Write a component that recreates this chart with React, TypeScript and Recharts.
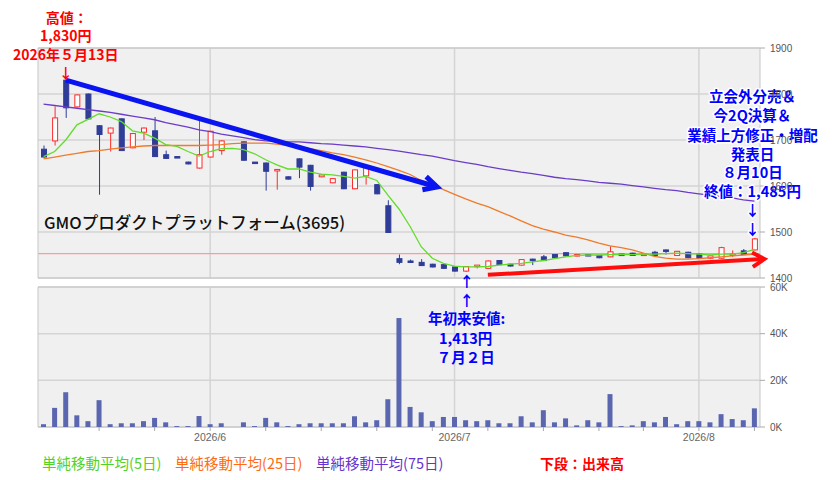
import React from 'react';
import {
  ComposedChart,
  Bar,
  Line,
  XAxis,
  YAxis,
  CartesianGrid,
  ReferenceLine,
  ReferenceArea,
  ReferenceDot,
} from 'recharts';

// ---------- data ----------
const dates = [
  '2026/5/11', '2026/5/12', '2026/5/13', '2026/5/14', '2026/5/15', '2026/5/18', '2026/5/19', '2026/5/20', '2026/5/21', '2026/5/22', '2026/5/25', '2026/5/26', '2026/5/27', '2026/5/28', '2026/5/29',
  '2026/6/1', '2026/6/2', '2026/6/3', '2026/6/4', '2026/6/5', '2026/6/8', '2026/6/9', '2026/6/10', '2026/6/11', '2026/6/12', '2026/6/15', '2026/6/16', '2026/6/17', '2026/6/18', '2026/6/19', '2026/6/22', '2026/6/23', '2026/6/24', '2026/6/25', '2026/6/26', '2026/6/29', '2026/6/30',
  '2026/7/1', '2026/7/2', '2026/7/3', '2026/7/6', '2026/7/7', '2026/7/8', '2026/7/9', '2026/7/10', '2026/7/13', '2026/7/14', '2026/7/15', '2026/7/16', '2026/7/17', '2026/7/21', '2026/7/22', '2026/7/23', '2026/7/24', '2026/7/27', '2026/7/28', '2026/7/29', '2026/7/30', '2026/7/31',
  '2026/8/3', '2026/8/4', '2026/8/5', '2026/8/6', '2026/8/7', '2026/8/10',
];

const opens = [
  1680, 1698, 1830, 1772, 1800, 1731, 1715, 1746, 1683, 1717, 1720, 1668, 1664, 1652, 1639,
  1663, 1677, null, 1696, 1652, 1650, 1634, 1620, 1659, 1645, 1620, 1607, 1630, 1594, 1622, 1603, 1557, 1442, 1437, 1434, 1430, 1429,
  1424, 1415, 1427, 1421, 1438, 1430, 1428, 1441, 1446, 1451, 1455, 1450, 1451, 1449, 1446, 1452, 1454, 1451, 1456, 1461, 1449, 1456,
  1452, 1443, 1443, 1451, 1459, 1461,
];
const highs = [
  1688, 1773, 1830, 1799, 1801, 1732, 1727, 1747, 1715, 1727, 1750, 1677, 1664, 1653, 1742,
  1720, 1699, null, 1697, 1652, 1651, 1636, 1621, 1660, 1646, 1625, 1617, 1631, 1636, 1646, 1604, 1569, 1451, 1440, 1441, 1431, 1430,
  1425, 1426, 1428, 1438, 1439, 1431, 1441, 1442, 1450, 1452, 1456, 1452, 1452, 1450, 1469, 1452, 1455, 1453, 1459, 1462, 1459, 1457,
  1453, 1450, 1468, 1460, 1463, 1487,
];
const lows = [
  1662, 1688, 1748, 1771, 1745, 1581, 1675, 1676, 1682, 1700, 1663, 1659, 1662, 1647, 1638,
  1662, 1668, null, 1655, 1650, 1590, 1592, 1614, 1617, 1590, 1619, 1606, 1593, 1593, 1603, 1582, 1498, 1430, 1433, 1426, 1423, 1420,
  1414, 1413, 1421, 1420, 1428, 1425, 1427, 1428, 1437, 1443, 1447, 1447, 1448, 1443, 1445, 1449, 1448, 1450, 1448, 1451, 1448, 1443,
  1442, 1441, 1442, 1446, 1450, 1460,
];
const closes = [
  1663, 1748, 1770, 1798, 1746, 1712, 1726, 1677, 1714, 1726, 1664, 1660, 1662, 1648, 1668,
  1719, 1698, null, 1656, 1651, 1632, 1636, 1615, 1641, 1599, 1624, 1616, 1594, 1635, 1641, 1583, 1499, 1434, 1435, 1427, 1424, 1421,
  1415, 1425, 1428, 1437, 1429, 1426, 1440, 1440, 1438, 1444, 1448, 1451, 1449, 1444, 1457, 1450, 1449, 1452, 1449, 1460, 1458, 1444,
  1443, 1448, 1466, 1452, 1451, 1485,
];
const volumes = [
  1200, 8200, 14900, 5000, 2500, 11500, 1200, 1600, 1600, 2500, 3900, 2000, 400, 400, 4700,
  1200, 1600, 0, 2000, 400, 3900, 2000, 400, 1200, 1600, 1600, 1600, 1600, 4600, 2000, 2900, 11900, 46700, 8600, 6300, 2500, 4300,
  4300, 2900, 2500, 2900, 1600, 1600, 4600, 2000, 7200, 2000, 3700, 700, 2900, 2000, 14100, 400, 700, 2500, 2000, 4300, 1200, 2500,
  2500, 2000, 5500, 3400, 2900, 8000,
];
const ma5 = [
  1664, 1675, 1700, 1733, 1745, 1757, 1750, 1740, 1720, 1715, 1704, 1690, 1686, 1675, 1665,
  1675, 1681, 1682, 1679, 1670, 1657, 1646, 1637, 1637, 1630, 1626, 1624, 1621, 1617, 1621, 1612, 1580, 1550, 1512, 1468, 1443, 1432,
  1426, 1424, 1424, 1425, 1428, 1430, 1432, 1435, 1438, 1442, 1446, 1449, 1450, 1450, 1451, 1451, 1451, 1452, 1452, 1453, 1454, 1453,
  1452, 1450, 1452, 1452, 1455, 1462,
];
const ma25 = [
  1659, 1663, 1667, 1671, 1675, 1677, 1680, 1683, 1685, 1687, 1688, 1688, 1688, 1688, 1688,
  1689, 1690, 1692, 1693, 1693, 1693, 1691, 1688, 1685, 1681, 1677, 1672, 1668, 1663, 1657, 1650, 1642, 1634, 1625, 1612, 1603, 1592,
  1582, 1572, 1563, 1555, 1545, 1535, 1524, 1514, 1506, 1500, 1493, 1489, 1483, 1476, 1470, 1466, 1461, 1454, 1447, 1443, 1441, 1441,
  1442, 1444, 1446, 1448, 1450, 1452,
];
const ma75 = [
  1778, 1775, 1772, 1769, 1766, 1763, 1760, 1756, 1752, 1748, 1744, 1738, 1733, 1728, 1722,
  1718, 1713, 1709, 1705, 1701, 1698, 1697, 1696, 1696, 1694, 1692, 1691, 1689, 1687, 1685, 1682, 1679, 1676, 1672, 1668, 1665, 1660,
  1655, 1651, 1647, 1642, 1638, 1634, 1630, 1627, 1623, 1619, 1616, 1614, 1611, 1608, 1606, 1604, 1601, 1598, 1595, 1592, 1590, 1586,
  1583, 1580, 1577, 1574, 1570, 1567,
];

const priceTicks = [1400, 1500, 1600, 1700, 1800, 1900];
const volumeTicks = [0, 20000, 40000, 60000];
const monthStarts = ['2026/6/1', '2026/7/1', '2026/8/3'];
const monthLabels = ['2026/6', '2026/7', '2026/8'];
const weekStarts = ['2026/5/18', '2026/5/25', '2026/6/1', '2026/6/8', '2026/6/15', '2026/6/22', '2026/6/29', '2026/7/6', '2026/7/13', '2026/7/21', '2026/7/27', '2026/8/3', '2026/8/10'];
const refPrice = 1453;

const highNote = { date: '2026/5/13', price: 1830, lines: ['高値：', '1,830円', '2026年５月13日'] };
const lowNote = { date: '2026/7/2', price: 1413, lines: ['年初来安値:', '1,413円', '７月２日'] };
const earnNote = { date: '2026/8/10', price: 1487, lines: ['立会外分売＆', '今2Q決算＆', '業績上方修正・増配', '発表日', '８月10日', '終値：1,485円'] };
const downTrend = [{ date: '2026/5/13', price: 1830 }, { date: '2026/6/29', price: 1601 }];
const upTrend = [{ date: '2026/7/6', price: 1407 }, { date: '2026/8/10', price: 1440 }];

const legendItems = [
  { label: '単純移動平均(5日)', color: '#52d126', left: 42 },
  { label: '単純移動平均(25日)', color: '#ff6a12', left: 175 },
  { label: '単純移動平均(75日)', color: '#6633cc', left: 316 },
];
const lowerLabel = '下段：出来高';
const title = 'GMOプロダクトプラットフォーム(3695)';

const rows = dates.map((date, i) => ({
  date,
  open: opens[i],
  high: highs[i],
  low: lows[i],
  close: closes[i],
  volume: volumes[i],
  ma5: ma5[i],
  ma25: ma25[i],
  ma75: ma75[i],
}));

// ---------- styles ----------
const JP = '"Noto Sans CJK JP","Noto Sans",sans-serif';
const AX = '"Liberation Sans",Arial,sans-serif';
const GRID = '#d4d4d4';
const BG = '#f0f0f0';
const BORDER = '#c6c6c6';
const UP = '#ff2a2a';
const DOWN = '#2f3c98';

// ---------- shapes ----------
function Candle(props: any) {
  const { x, y, width, height, payload } = props;
  if (!payload || payload.open == null || y == null) return null;
  const { open, close, high, low } = payload;
  const top = Math.min(y, y + height);
  const h = Math.abs(height);
  const ratio = high > low ? h / (high - low) : 0;
  const py = (v: number) => top + (high - v) * ratio;
  const cx = x + width / 2;
  const up = close >= open;
  const color = up ? UP : DOWN;
  const bTop = py(Math.max(open, close));
  const bBot = py(Math.min(open, close));
  const bh = Math.max(bBot - bTop, 1.5);
  return (
    <g>
      <line x1={cx} x2={cx} y1={top} y2={top + h} stroke={color} strokeWidth={1} />
      <rect x={cx - 2.5} y={bTop} width={5} height={bh} fill={up ? '#ffffff' : color} stroke={color} strokeWidth={1} />
    </g>
  );
}

function arrowShape(color: string, sw: number, ext: number, barb: number, deg: number) {
  return (p: any) => {
    const { x1, y1, x2, y2 } = p;
    if (x1 == null || x2 == null) return <g />;
    const dx = x2 - x1;
    const dy = y2 - y1;
    const len = Math.hypot(dx, dy) || 1;
    const ux = dx / len;
    const uy = dy / len;
    const tx = x2 + ux * ext;
    const ty = y2 + uy * ext;
    const a = (deg * Math.PI) / 180;
    const bx = -ux;
    const by = -uy;
    const r1x = bx * Math.cos(a) - by * Math.sin(a);
    const r1y = bx * Math.sin(a) + by * Math.cos(a);
    const r2x = bx * Math.cos(-a) - by * Math.sin(-a);
    const r2y = bx * Math.sin(-a) + by * Math.cos(-a);
    return (
      <g>
        <line x1={x1} y1={y1} x2={tx - ux * 1.5} y2={ty - uy * 1.5} stroke={color} strokeWidth={sw} />
        <polyline
          points={`${tx + r1x * barb},${ty + r1y * barb} ${tx},${ty} ${tx + r2x * barb},${ty + r2y * barb}`}
          fill="none"
          stroke={color}
          strokeWidth={sw}
          strokeLinejoin="miter"
        />
      </g>
    );
  };
}

const HighNoteShape = (p: any) => {
  const { cx, cy } = p;
  const [a, b, c] = highNote.lines;
  return (
    <g fontFamily={JP} fontWeight={700} fontSize={14} fill="#ff0000" textAnchor="middle">
      <text x={cx + 1} y={cy - 57.5}>{a}</text>
      <text x={cx} y={cy - 39}>{b}</text>
      <text x={cx} y={cy - 20}>{c}</text>
      <text x={cx} y={cy - 2.5}>↓</text>
    </g>
  );
};

const LowNoteShape = (p: any) => {
  const { cx, cy } = p;
  const [a, b, c] = lowNote.lines;
  return (
    <g fontFamily={JP} fontWeight={700} fontSize={14.5} fill="#0000ff" textAnchor="middle">
      <text x={cx + 1} y={cy + 15}>↑</text>
      <text x={cx + 1} y={cy + 34}>↑</text>
      <text x={cx + 1} y={cy + 52}>{a}</text>
      <text x={cx} y={cy + 72}>{b}</text>
      <text x={cx} y={cy + 91}>{c}</text>
    </g>
  );
};

const EarnNoteShape = (p: any) => {
  const { cx, cy } = p;
  const offs = [-136, -116.5, -96.5, -77.5, -59.5, -40.5];
  return (
    <g
      fontFamily={JP}
      fontWeight={700}
      fontSize={14.5}
      fill="#0000ff"
      textAnchor="middle"
      stroke="#ffffff"
      strokeWidth={3}
      strokeLinejoin="round"
      style={{ paintOrder: 'stroke' }}
    >
      {earnNote.lines.map((l, i) => (
        <text key={i} x={cx - 2} y={cy + offs[i]}>{l}</text>
      ))}
      <text x={cx - 2} y={cy - 21.6}>↓</text>
      <text x={cx - 2} y={cy - 3.3}>↓</text>
    </g>
  );
};

function VolumeTick(props: any) {
  const { x, y, payload } = props;
  const v = payload && payload.value;
  const m = monthStarts.indexOf(v);
  const isWeek = weekStarts.indexOf(v) >= 0;
  return (
    <g>
      {isWeek && <line x1={x} x2={x} y1={y} y2={y + 4} stroke="#a8a8a8" strokeWidth={1} />}
      {m >= 0 && (
        <text x={x} y={y + 14} textAnchor="middle" fontSize={10.5} fontFamily={AX} fill="#666">
          {monthLabels[m]}
        </text>
      )}
    </g>
  );
}

const volumeAxisTicks = Array.from(new Set([...weekStarts, ...monthStarts])).sort(
  (a, b) => dates.indexOf(a) - dates.indexOf(b)
);

export default function App() {
  return (
    <div
      style={{
        position: 'absolute',
        left: 0,
        top: 0,
        width: 832,
        height: 480,
        background: '#ffffff',
        fontFamily: JP,
        overflow: 'hidden',
      }}
    >
      {/* volume panel */}
      <div style={{ position: 'absolute', left: 0, top: 0 }}>
        <ComposedChart width={832} height={480} data={rows} margin={{ top: 287, right: 0, bottom: 33, left: 38 }}>
          <CartesianGrid vertical={false} stroke={GRID} strokeWidth={1.5} fill={BG} />
          {monthStarts.map((d) => (
            <ReferenceLine key={d} x={d} stroke={GRID} strokeWidth={1.5} zIndex={-50} />
          ))}
          <ReferenceArea y1={0} y2={60000} fillOpacity={0} stroke={BORDER} strokeWidth={1} />
          <XAxis
            dataKey="date"
            ticks={volumeAxisTicks}
            interval={0}
            tick={<VolumeTick />}
            tickLine={false}
            axisLine={false}
            tickSize={0}
            tickMargin={0}
            height={20}
          />
          <YAxis
            orientation="right"
            width={72}
            domain={[0, 60000]}
            ticks={volumeTicks}
            allowDataOverflow
            interval={0}
            tickFormatter={(v: number) => `${v / 1000}K`}
            tick={{ fontSize: 10, fill: '#555', fontFamily: AX }}
            tickLine={{ stroke: '#aaa' }}
            tickSize={5}
            tickMargin={5}
            axisLine={false}
          />
          <Bar dataKey="volume" fill="#5a66b0" barSize={5} isAnimationActive={false} />
        </ComposedChart>
      </div>

      {/* price panel */}
      <div style={{ position: 'absolute', left: 0, top: 0 }}>
        <ComposedChart width={832} height={480} data={rows} margin={{ top: 48, right: 0, bottom: 202, left: 38 }}>
          <CartesianGrid vertical={false} stroke={GRID} strokeWidth={1.5} fill={BG} />
          {monthStarts.map((d) => (
            <ReferenceLine key={d} x={d} stroke={GRID} strokeWidth={1.5} zIndex={-50} />
          ))}
          <ReferenceLine y={refPrice} stroke="#ff9a9a" strokeWidth={1.2} zIndex={-40} />
          <ReferenceArea y1={1400} y2={1900} fillOpacity={0} stroke={BORDER} strokeWidth={1} />
          <XAxis dataKey="date" hide />
          <YAxis
            orientation="right"
            width={72}
            domain={[1400, 1900]}
            ticks={priceTicks}
            allowDataOverflow
            interval={0}
            tick={{ fontSize: 10, fill: '#555', fontFamily: AX }}
            tickLine={{ stroke: '#aaa' }}
            tickSize={5}
            tickMargin={5}
            axisLine={false}
          />
          <Bar
            dataKey={(d: any) => (d.low == null ? null : [d.low, d.high])}
            barSize={6}
            shape={Candle}
            isAnimationActive={false}
          />
          <Line type="linear" dataKey="ma75" stroke="#6a3cc8" strokeWidth={1.3} dot={false} activeDot={false} isAnimationActive={false} />
          <Line type="linear" dataKey="ma25" stroke="#f07a2a" strokeWidth={1.3} dot={false} activeDot={false} isAnimationActive={false} />
          <Line type="linear" dataKey="ma5" stroke="#62dc2a" strokeWidth={1.3} dot={false} activeDot={false} isAnimationActive={false} />
          <ReferenceLine
            segment={downTrend.map((p) => ({ x: p.date, y: p.price }))}
            ifOverflow="visible"
            shape={arrowShape('#0a14f0', 5, 5, 15, 27)}
          />
          <ReferenceLine
            segment={upTrend.map((p) => ({ x: p.date, y: p.price }))}
            ifOverflow="visible"
            shape={arrowShape('#ff0d0d', 4, 10, 14, 31)}
          />
          <ReferenceDot x={highNote.date} y={highNote.price} r={0} ifOverflow="visible" shape={HighNoteShape} />
          <ReferenceDot x={lowNote.date} y={lowNote.price} r={0} ifOverflow="visible" shape={LowNoteShape} />
          <ReferenceDot x={earnNote.date} y={earnNote.price} r={0} ifOverflow="visible" shape={EarnNoteShape} />
        </ComposedChart>
      </div>

      {/* title */}
      <div
        style={{
          position: 'absolute',
          left: 44,
          top: 211,
          fontSize: 16.5,
          fontWeight: 500,
          lineHeight: '22px',
          color: '#111',
          whiteSpace: 'nowrap',
        }}
      >
        {title}
      </div>

      {/* legend */}
      {legendItems.map((it) => (
        <div
          key={it.label}
          style={{
            position: 'absolute',
            left: it.left,
            top: 452,
            fontSize: 14.5,
            lineHeight: '22px',
            color: it.color,
            whiteSpace: 'nowrap',
          }}
        >
          {it.label}
        </div>
      ))}
      <div
        style={{
          position: 'absolute',
          left: 540,
          top: 452,
          fontSize: 14,
          fontWeight: 700,
          lineHeight: '22px',
          color: '#ff0000',
          whiteSpace: 'nowrap',
        }}
      >
        {lowerLabel}
      </div>
    </div>
  );
}
